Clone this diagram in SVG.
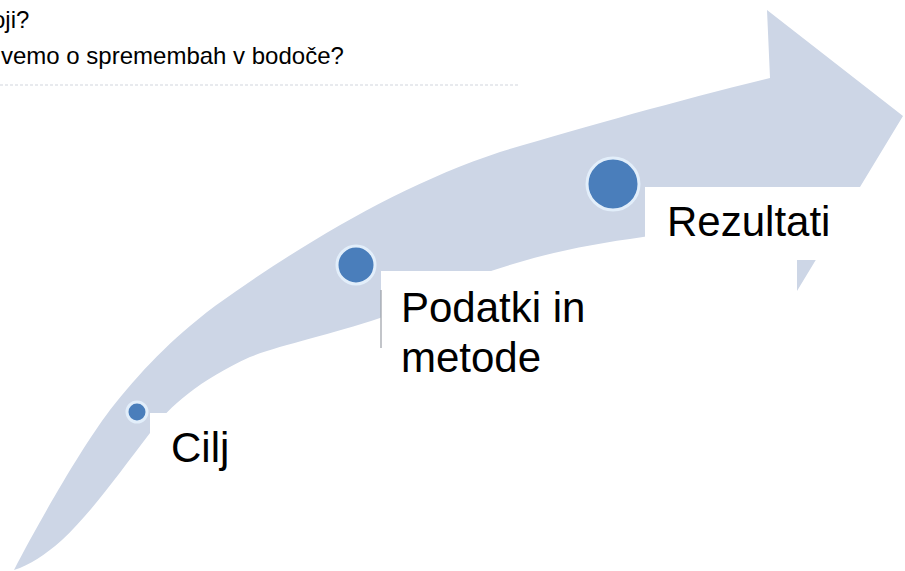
<svg xmlns="http://www.w3.org/2000/svg" width="905" height="571" viewBox="0 0 905 571">
  <style>
    .band { fill: #cdd6e6; }
    .dot { fill: #4a7ebb; stroke: #e2eefa; stroke-width: 3; }
    .box { fill: #ffffff; }
    .lbl { font-family: "Liberation Sans", Arial, sans-serif; font-size: 42px; fill: #000000; }
    .top { font-family: "Liberation Sans", Arial, sans-serif; font-size: 24px; fill: #000000; }
  </style>
  <rect width="905" height="571" fill="#ffffff"/>
  <g id="header">
    <text class="top" x="-8" y="28">oji?</text>
    <text class="top" x="1" y="64">vemo o spremembah v bodoče?</text>
    <line x1="0" y1="85" x2="520" y2="85" stroke="#e8eaee" stroke-width="2" stroke-dasharray="3 2"/>
  </g>
  <g id="arrow">
    <path class="band" d="M14,570 C40,520 80,450 110,410 C140,372 170,340 215,306 C300,245 400,185 500,152 C580,128 680,100 770,78 L767,10 L903,116 L797,291 L797,215 C740,222 680,230 643,237 C600,243 560,250 520,262 C470,276 420,298 380,318 C330,335 280,345 250,357 C200,380 170,405 150,433 C120,472 92,512 62,540 C45,555 30,565 14,570 Z"/>
  </g>
  <g id="cilj">
    <circle class="dot" cx="137" cy="412" r="10"/>
    <rect class="box" x="150" y="413" width="110" height="65"/>
    <text class="lbl" x="171" y="462">Cilj</text>
  </g>
  <g id="podatki">
    <circle class="dot" cx="356" cy="265" r="19"/>
    <rect class="box" x="381" y="271" width="220" height="115"/>
    <line x1="381" y1="290" x2="381" y2="348" stroke="#9a9ea6" stroke-width="1.2"/>
    <text class="lbl" x="401" y="322">Podatki in</text>
    <text class="lbl" x="401" y="372">metode</text>
  </g>
  <g id="rezultati">
    <circle class="dot" cx="613" cy="184" r="26"/>
    <rect class="box" x="645" y="187" width="230" height="73"/>
    <text class="lbl" x="667" y="236">Rezultati</text>
  </g>
  <g id="connectors"></g>
</svg>
